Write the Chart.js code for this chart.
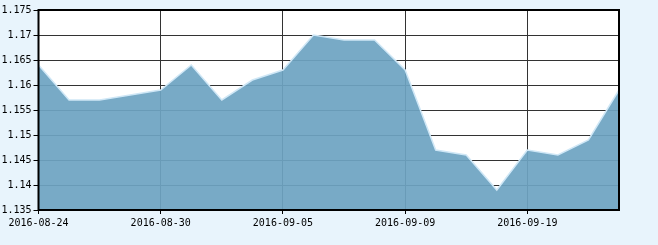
<!DOCTYPE html>
<html><head><meta charset="utf-8">
<script src="https://cdn.jsdelivr.net/npm/chart.js@4"></script>
<style>html,body{margin:0;padding:0;background:#e8f4fc;}#wrap{width:658px;height:245px;}</style>
</head><body><div id="wrap"><canvas id="c" width="658" height="245"></canvas></div>
<script>
const categories = ["2016-08-24","2016-08-25","2016-08-26","2016-08-29","2016-08-30","2016-08-31","2016-09-01","2016-09-02","2016-09-05","2016-09-06","2016-09-07","2016-09-08","2016-09-09","2016-09-12","2016-09-13","2016-09-14","2016-09-19","2016-09-20","2016-09-21","2016-09-22"];
const values = [1.164,1.157,1.157,1.158,1.159,1.164,1.157,1.161,1.163,1.170,1.169,1.169,1.163,1.147,1.146,1.139,1.147,1.146,1.149,1.159];
const labelIndices = [0,4,8,12,16];
const yTicks = ["1.135","1.14","1.145","1.15","1.155","1.16","1.165","1.17","1.175"];

const frame = {
  id:'frame',
  beforeDraw(chart){
    const {ctx, chartArea:a} = chart;
    ctx.save(); ctx.fillStyle='#ffffff';
    ctx.fillRect(a.left,a.top,a.right-a.left,a.bottom-a.top); ctx.restore();
  },
  afterDatasetsDraw(chart){
    const {ctx, chartArea:a} = chart;
    ctx.save(); ctx.strokeStyle='#000000'; ctx.lineWidth=2;
    ctx.strokeRect(a.left,a.top,a.right-a.left,a.bottom-a.top); ctx.restore();
  }
};
const font = {family:'"DejaVu Sans Mono", monospace', size:10};
new Chart(document.getElementById('c'), {
  type:'line',
  data:{labels:categories, datasets:[{data:values, fill:'start', backgroundColor:'rgba(110,164,194,0.93)', borderColor:'#cfe7f6', borderWidth:1.5, pointRadius:0, tension:0}]},
  options:{
    responsive:false, animation:false, devicePixelRatio:1,
    layout:{padding:{top:10,right:39,left:0,bottom:0}},
    plugins:{legend:{display:false}, tooltip:{enabled:false}},
    scales:{
      x:{offset:false, afterFit(s){s.height=35;},
        grid:{color:c=>labelIndices.includes(c.index)?'#333333':'rgba(0,0,0,0)', lineWidth:1, tickLength:4, tickColor:c=>labelIndices.includes(c.index)?'#000000':'rgba(0,0,0,0)'},
        border:{display:false},
        ticks:{autoSkip:false, maxRotation:0, color:'#000', font, padding:3, callback:(v,i)=>labelIndices.includes(i)?categories[i]:''}},
      y:{min:1.135, max:1.175, afterFit(s){s.width=38.5;},
        afterBuildTicks(s){s.ticks=yTicks.map(t=>({value:parseFloat(t)}));},
        grid:{color:'#333333', lineWidth:1, tickLength:5, tickColor:'#000'},
        border:{display:false},
        ticks:{color:'#000', font, padding:2, callback:(v,i)=>yTicks[i]}}
    }
  },
  plugins:[frame]
});
</script></body></html>
